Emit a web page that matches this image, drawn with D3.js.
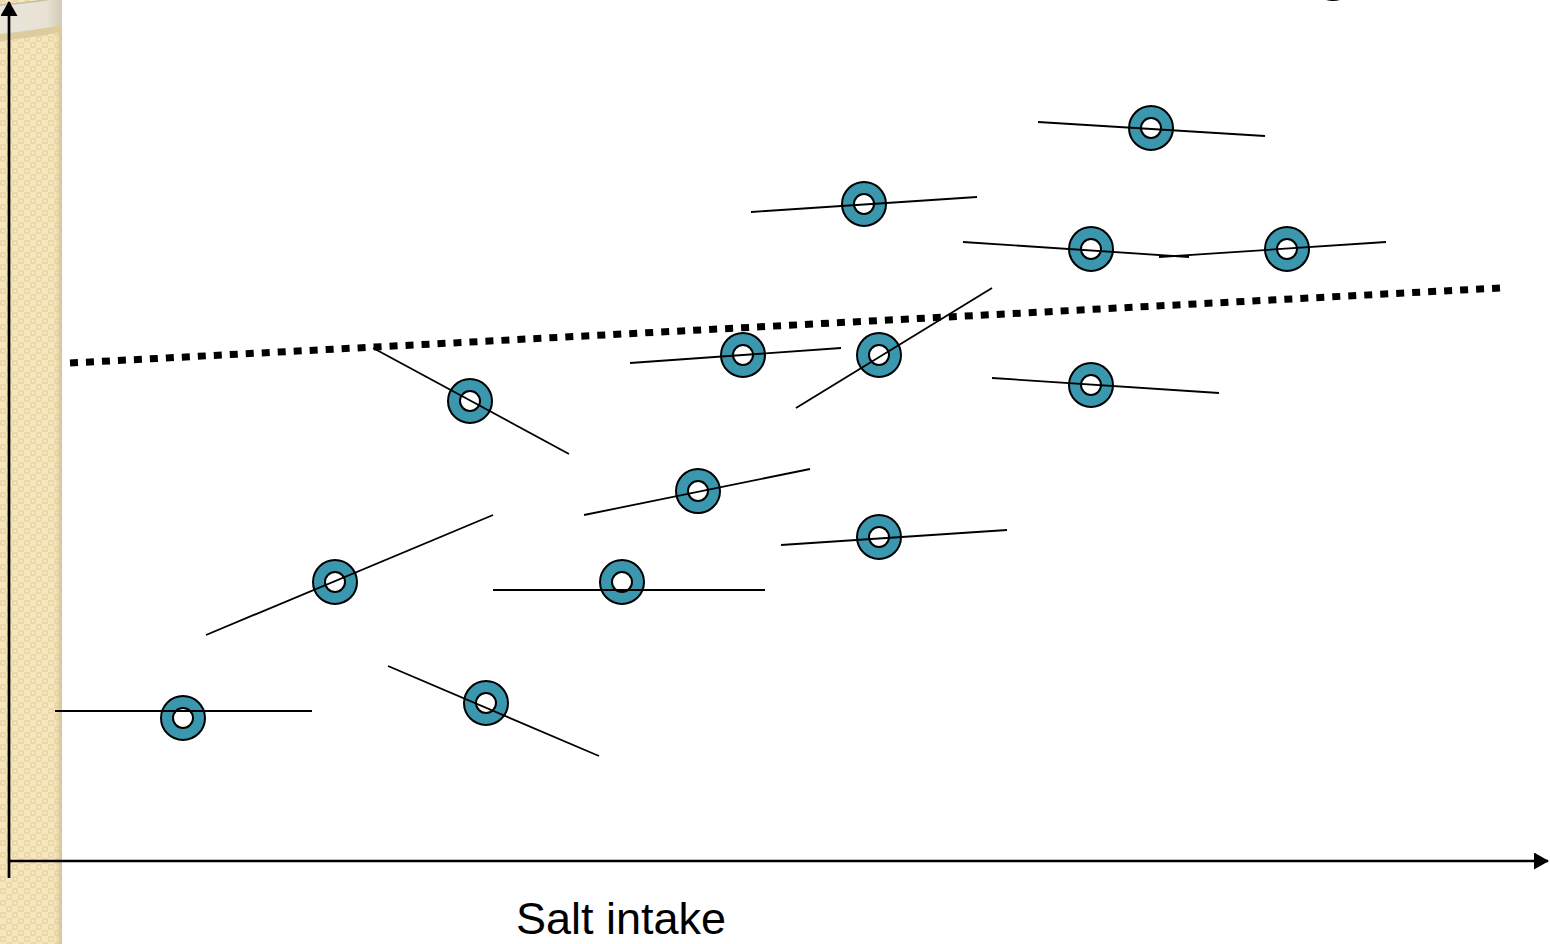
<!DOCTYPE html>
<html><head><meta charset="utf-8">
<script src="https://cdn.jsdelivr.net/npm/d3@7"></script>
<style>html,body{margin:0;padding:0;background:#fff;overflow:hidden}</style>
</head><body>
<svg id="c" width="1550" height="944"></svg>
<script>
// Data (chart units: x = salt intake, y = outcome)
const groups = ["A","B","C","D","E","F","G","H","I","J","K","L","M","N","O"];
const pointX = [174, 477, 326, 613, 461, 689, 870, 734, 870, 855, 1082, 1278, 1142, 1082, 1324];
const pointY = [143, 158, 279, 279, 460, 370, 324, 506, 506, 657, 612, 612, 733, 476, 883];
const lineX0 = [46, 379, 197, 484, 364, 575, 772, 621, 787, 742, 954, 1150, 1029, 983, null];
const lineY0 = [150, 195, 226, 271, 513, 346, 316, 498, 453, 649, 619, 604, 739, 483, null];
const lineX1 = [303, 590, 484, 756, 560, 801, 998, 832, 983, 968, 1180, 1377, 1256, 1210, null];
const lineY1 = [150, 105, 346, 271, 407, 392, 331, 513, 573, 664, 604, 619, 725, 468, null];
const trendX = [61, 1491];
const trendY = [498, 573];
const xLabel = "Salt intake";

const svg = d3.select("#c");
const defs = svg.append("defs");

// beige patterned side strip
const pat = defs.append("pattern").attr("id","chk").attr("patternUnits","userSpaceOnUse")
  .attr("width",12).attr("height",12);
pat.append("rect").attr("width",12).attr("height",12).attr("fill","#F6E6BC");
pat.append("rect").attr("x",0).attr("y",0).attr("width",6).attr("height",6).attr("fill","#EBD9AB");
pat.append("rect").attr("x",6).attr("y",6).attr("width",6).attr("height",6).attr("fill","#EBD9AB");
pat.append("rect").attr("x",2).attr("y",2).attr("width",2).attr("height",2).attr("fill","#F8EAC4");
pat.append("rect").attr("x",8).attr("y",8).attr("width",2).attr("height",2).attr("fill","#F8EAC4");

const sh = defs.append("linearGradient").attr("id","edge").attr("x1",0).attr("x2",1);
sh.append("stop").attr("offset",0).attr("stop-color","#DCCB9E").attr("stop-opacity",0);
sh.append("stop").attr("offset",1).attr("stop-color","#CDBB8C").attr("stop-opacity",0.8);

const cyl = defs.append("linearGradient").attr("id","cyl").attr("x1",0).attr("x2",1);
cyl.append("stop").attr("offset",0).attr("stop-color","#E9E5DA");
cyl.append("stop").attr("offset",0.75).attr("stop-color","#E7E2D3");
cyl.append("stop").attr("offset",1).attr("stop-color","#D2CAB5");

svg.append("rect").attr("x",0).attr("y",0).attr("width",62).attr("height",944).attr("fill","url(#chk)");
svg.append("rect").attr("x",54).attr("y",0).attr("width",8).attr("height",944).attr("fill","url(#edge)");
svg.append("path").attr("d","M0,30 Q30,28 62,22 L62,32 Q30,38 0,41 Z").attr("fill","#DACA9A").attr("opacity",0.9);
svg.append("path").attr("d","M0,5 Q28,3 52,-1 L62,-1 L62,25 Q30,31 0,34 Z").attr("fill","url(#cyl)");
svg.append("path").attr("d","M0,5 Q28,3 52,-1").attr("fill","none").attr("stroke","#C6BDA8").attr("stroke-width",1.5);

// scales
const x = d3.scaleLinear().domain([0,1540]).range([9,1549]);
const y = d3.scaleLinear().domain([0,861]).range([861,0]);

// axes with arrows
defs.append("marker").attr("id","arr").attr("viewBox","0 0 15 17").attr("refX",14).attr("refY",8.5)
  .attr("markerWidth",15).attr("markerHeight",17).attr("orient","auto").attr("markerUnits","userSpaceOnUse")
  .append("path").attr("d","M0,0 L15,8.5 L0,17 Z").attr("fill","#000");
svg.append("line").attr("x1",x(0)).attr("y1",878).attr("x2",x(0)).attr("y2",2)
  .attr("stroke","#000").attr("stroke-width",2.7).attr("marker-end","url(#arr)");
svg.append("line").attr("x1",x(0)-1).attr("y1",y(0)).attr("x2",1548).attr("y2",y(0))
  .attr("stroke","#000").attr("stroke-width",2.7).attr("marker-end","url(#arr)");

// trend line (dotted)
svg.append("line").attr("x1",x(trendX[0])).attr("y1",y(trendY[0])).attr("x2",x(trendX[1])).attr("y2",y(trendY[1]))
  .attr("stroke","#000").attr("stroke-width",7).attr("stroke-dasharray","8,8");

const idx = d3.range(groups.length);
// ring markers
const g = svg.append("g").selectAll("g").data(idx).join("g")
  .attr("transform",i=>`translate(${x(pointX[i])},${y(pointY[i])})`);
g.append("circle").attr("r",22).attr("fill","#3A97AE").attr("stroke","#000").attr("stroke-width",2);
g.append("circle").attr("r",10).attr("fill","#fff").attr("stroke","#000").attr("stroke-width",2);
// within-group slope lines (drawn over the rings as in reference)
svg.append("g").selectAll("line").data(idx.filter(i=>lineX0[i]!==null)).join("line")
  .attr("x1",i=>x(lineX0[i])).attr("y1",i=>y(lineY0[i]))
  .attr("x2",i=>x(lineX1[i])).attr("y2",i=>y(lineY1[i]))
  .attr("stroke","#000").attr("stroke-width",1.8);

svg.append("text").attr("x",621).attr("y",934).attr("text-anchor","middle")
  .attr("font-family","'Liberation Sans', Arial, sans-serif").attr("font-size",45).attr("fill","#000")
  .text(xLabel);
</script>
</body></html>
